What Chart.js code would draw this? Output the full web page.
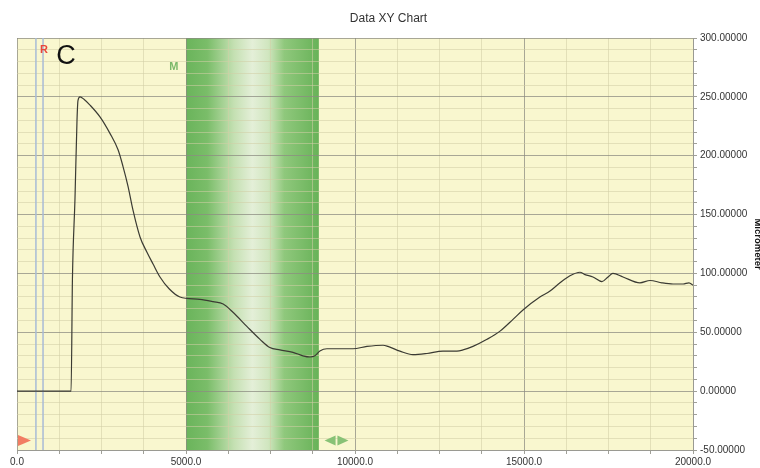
<!DOCTYPE html>
<html>
<head>
<meta charset="utf-8">
<title>Data XY Chart</title>
<script src="https://cdn.jsdelivr.net/npm/chart.js@4.4.1/dist/chart.umd.min.js"></script>
<style>
  html, body { margin: 0; padding: 0; background: #fff; }
</style>
</head>
<body>
<canvas id="xy-chart" width="760" height="468"></canvas>
<script>
// trace: position vs. displacement
const positionX = [0, 1600, 1640, 1715, 1775, 1805, 1865, 1980, 2160, 2455, 2750, 2990, 3135, 3285, 3430, 3640, 3845, 4025, 4230, 4500,
  4820, 5410, 5800, 6100, 6390, 6800, 7190, 7480, 7780, 8165, 8460, 8670, 8815, 8960, 9170, 9555, 9940, 10355, 10830, 10975,
  11330, 11715, 12130, 12600, 13015, 13195, 13490, 13905, 14290, 14675, 14970, 15470, 15770, 16065, 16360, 16655, 16805, 17040, 17305, 17485,
  17630, 17930, 18430, 18730, 19080, 19410, 19705, 19880, 20000];
const micrometer = [0, 0, 95, 163, 230, 247, 250, 248, 243, 233, 219, 205, 191, 174, 154, 131, 118, 108, 97, 87,
  80, 78, 76, 74, 67, 55, 44, 37, 35, 33, 30, 29, 30, 34, 36, 36, 36, 38, 39, 38,
  34, 31, 32, 34, 34, 35, 38, 44, 51, 61, 69, 80, 85, 92, 98, 101, 99, 97, 93, 97,
  100, 97, 92, 94, 92, 91, 91, 92, 90];

// reference cursors and measurement window
const cursorX = [560, 770];
const measureBand = [5000, 8930];

const xTicks = [0, 5000, 10000, 15000, 20000];
const yTicks = [-50, 0, 50, 100, 150, 200, 250, 300];

const FONT = "'Liberation Sans', Arial, sans-serif";

const trace = positionX.map((x, i) => ({ x: x, y: micrometer[i] }));
const cursorSets = cursorX.map(cx => ({
  data: [{ x: cx, y: yTicks[0] }, { x: cx, y: yTicks[yTicks.length - 1] }],
  showLine: true,
  borderColor: '#a8bbd6',
  borderWidth: 1.5,
  pointRadius: 0,
  order: 2
}));

function tri(ctx, x, y, w, h, dir) {
  ctx.beginPath();
  if (dir > 0) {
    ctx.moveTo(x, y - h / 2); ctx.lineTo(x + w, y); ctx.lineTo(x, y + h / 2);
  } else {
    ctx.moveTo(x + w, y - h / 2); ctx.lineTo(x, y); ctx.lineTo(x + w, y + h / 2);
  }
  ctx.closePath();
  ctx.fill();
}

const plotDecor = {
  id: 'plotDecor',
  beforeDraw(chart) {
    const { ctx, chartArea: a, scales: { x } } = chart;
    ctx.save();
    ctx.fillStyle = '#f9f7cf';
    ctx.fillRect(a.left, a.top, a.right - a.left, a.bottom - a.top);
    const x0 = x.getPixelForValue(measureBand[0]);
    const x1 = x.getPixelForValue(measureBand[1]);
    const g = ctx.createLinearGradient(x0, 0, x1, 0);
    g.addColorStop(0, '#6ab45b');
    g.addColorStop(0.16, '#7abd69');
    g.addColorStop(0.36, '#c4e0b2');
    g.addColorStop(0.5, '#e4efd8');
    g.addColorStop(0.62, '#d0e6bf');
    g.addColorStop(0.74, '#8fc87c');
    g.addColorStop(1, '#68b258');
    ctx.fillStyle = g;
    ctx.fillRect(x0, a.top, x1 - x0, a.bottom - a.top);
    ctx.restore();
  },
  afterDatasetsDraw(chart) {
    const { ctx, scales: { x, y } } = chart;
    ctx.save();
    ctx.textAlign = 'center';
    ctx.textBaseline = 'middle';
    ctx.fillStyle = '#e8463c';
    ctx.font = 'bold 11px ' + FONT;
    ctx.fillText('R', x.getPixelForValue(800), y.getPixelForValue(290));
    ctx.fillStyle = '#111';
    ctx.font = '27px ' + FONT;
    ctx.fillText('C', x.getPixelForValue(1450), y.getPixelForValue(284));
    ctx.fillStyle = '#7cb96a';
    ctx.font = 'bold 11px ' + FONT;
    ctx.fillText('M', x.getPixelForValue(4640), y.getPixelForValue(275));
    // cursor handles along the bottom edge
    const hy = y.getPixelForValue(-42);
    ctx.fillStyle = '#f27d63';
    tri(ctx, x.getPixelForValue(0) + 1, hy, 13, 11, 1);
    ctx.fillStyle = '#88c276';
    tri(ctx, x.getPixelForValue(9100), hy, 11, 10, -1);
    tri(ctx, x.getPixelForValue(9480), hy, 11, 10, 1);
    ctx.restore();
  }
};

new Chart(document.getElementById('xy-chart'), {
  type: 'scatter',
  data: {
    datasets: [{
      data: trace,
      showLine: true,
      borderColor: '#3b3b33',
      borderWidth: 1.2,
      pointRadius: 0,
      cubicInterpolationMode: 'monotone',
      order: 1
    }, ...cursorSets]
  },
  options: {
    responsive: false,
    animation: false,
    layout: { padding: { left: 17, right: 0, top: 0, bottom: 0 } },
    plugins: {
      legend: { display: false },
      tooltip: { enabled: false },
      title: {
        display: true,
        text: 'Data XY Chart',
        color: '#333',
        font: { family: FONT, size: 12, weight: 'normal' },
        padding: { top: 11, bottom: 12.6 }
      }
    },
    scales: {
      x: {
        type: 'linear',
        min: xTicks[0],
        max: xTicks[xTicks.length - 1],
        afterFit(s) { s.height = 18; },
        border: { color: '#9a9a92', width: 1 },
        grid: {
          color: c => (c.tick && c.tick.value % 5000 === 0) ? 'rgba(140,140,130,0.75)' : 'rgba(210,205,165,0.55)',
          tickColor: '#a0a098',
          tickLength: 4
        },
        ticks: {
          stepSize: 1250,
          autoSkip: false,
          maxRotation: 0,
          padding: 2,
          color: '#333',
          font: { family: FONT, size: 10 },
          callback: v => xTicks.includes(v) ? v.toFixed(1) : ''
        }
      },
      y: {
        type: 'linear',
        position: 'right',
        min: yTicks[0],
        max: yTicks[yTicks.length - 1],
        afterFit(s) { s.width = 67; },
        border: { color: '#9a9a92', width: 1 },
        grid: {
          color: c => (c.tick && c.tick.value % 50 === 0) ? 'rgba(140,140,130,0.75)' : 'rgba(210,205,165,0.55)',
          tickColor: '#a0a098',
          tickLength: 4
        },
        ticks: {
          stepSize: 10,
          autoSkip: false,
          padding: 3,
          color: '#333',
          font: { family: FONT, size: 10 },
          callback: v => yTicks.includes(v) ? v.toFixed(5) : ''
        },
        title: {
          display: true,
          text: 'Micrometer',
          color: '#111',
          font: { family: FONT, size: 9.5, weight: 'bold' },
          padding: { top: -3.5, bottom: 0 }
        }
      }
    }
  },
  plugins: [plotDecor]
});
</script>
</body>
</html>
